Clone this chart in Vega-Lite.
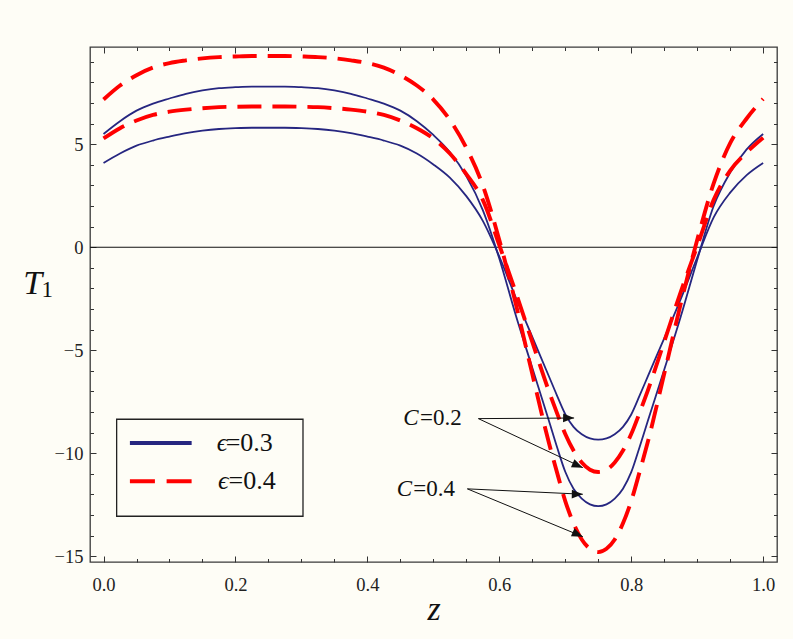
{
  "$schema": "https://vega.github.io/schema/vega-lite/v6.json",
  "width": 687,
  "height": 515,
  "autosize": {"type": "none"},
  "padding": {"left": 90, "top": 47, "right": 16, "bottom": 77},
  "background": "#fefdf6",
  "config": {
    "view": {"stroke": "#3a3a3a", "strokeWidth": 1.3},
    "axis": {"grid": false, "domain": false, "tickColor": "#333", "tickWidth": 1}
  },
  "datasets": {
    "curves": [
      {"z": 0.0, "b2": 4.09, "b4": 5.5, "r2": 5.28, "r4": 7.17},
      {"z": 0.025, "b2": 4.55, "b4": 6.12, "r2": 5.78, "r4": 7.85},
      {"z": 0.05, "b2": 4.93, "b4": 6.63, "r2": 6.15, "r4": 8.35},
      {"z": 0.075, "b2": 5.18, "b4": 6.97, "r2": 6.42, "r4": 8.72},
      {"z": 0.1, "b2": 5.37, "b4": 7.22, "r2": 6.58, "r4": 8.94},
      {"z": 0.125, "b2": 5.54, "b4": 7.45, "r2": 6.68, "r4": 9.07},
      {"z": 0.15, "b2": 5.66, "b4": 7.61, "r2": 6.75, "r4": 9.17},
      {"z": 0.175, "b2": 5.74, "b4": 7.72, "r2": 6.8, "r4": 9.23},
      {"z": 0.2, "b2": 5.78, "b4": 7.77, "r2": 6.82, "r4": 9.26},
      {"z": 0.225, "b2": 5.8, "b4": 7.8, "r2": 6.83, "r4": 9.28},
      {"z": 0.25, "b2": 5.8, "b4": 7.8, "r2": 6.83, "r4": 9.28},
      {"z": 0.275, "b2": 5.8, "b4": 7.8, "r2": 6.83, "r4": 9.28},
      {"z": 0.3, "b2": 5.78, "b4": 7.77, "r2": 6.82, "r4": 9.26},
      {"z": 0.325, "b2": 5.74, "b4": 7.72, "r2": 6.8, "r4": 9.23},
      {"z": 0.35, "b2": 5.66, "b4": 7.61, "r2": 6.75, "r4": 9.17},
      {"z": 0.375, "b2": 5.54, "b4": 7.45, "r2": 6.68, "r4": 9.07},
      {"z": 0.4, "b2": 5.37, "b4": 7.22, "r2": 6.58, "r4": 8.94},
      {"z": 0.425, "b2": 5.18, "b4": 6.97, "r2": 6.42, "r4": 8.72},
      {"z": 0.45, "b2": 4.93, "b4": 6.63, "r2": 6.15, "r4": 8.35},
      {"z": 0.475, "b2": 4.55, "b4": 6.12, "r2": 5.78, "r4": 7.85},
      {"z": 0.5, "b2": 4.02, "b4": 5.45, "r2": 5.28, "r4": 7.17},
      {"z": 0.525, "b2": 3.38, "b4": 4.62, "r2": 4.55, "r4": 6.18},
      {"z": 0.55, "b2": 2.48, "b4": 3.45, "r2": 3.55, "r4": 4.82},
      {"z": 0.575, "b2": 1.28, "b4": 1.8, "r2": 2.3, "r4": 3.0},
      {"z": 0.6, "b2": -0.45, "b4": -0.55, "r2": 0.1, "r4": 0.35},
      {"z": 0.625, "b2": -2.45, "b4": -3.3, "r2": -2.2, "r4": -2.75},
      {"z": 0.65, "b2": -4.35, "b4": -5.85, "r2": -4.6, "r4": -6.15},
      {"z": 0.675, "b2": -6.25, "b4": -8.4, "r2": -6.97, "r4": -9.47},
      {"z": 0.6875, "b2": -7.2, "b4": -9.7, "r2": -8.05, "r4": -10.93},
      {"z": 0.7, "b2": -8.1, "b4": -10.9, "r2": -9.07, "r4": -12.32},
      {"z": 0.7125, "b2": -8.72, "b4": -11.72, "r2": -9.87, "r4": -13.4},
      {"z": 0.725, "b2": -9.08, "b4": -12.2, "r2": -10.45, "r4": -14.19},
      {"z": 0.7375, "b2": -9.28, "b4": -12.48, "r2": -10.8, "r4": -14.64},
      {"z": 0.75, "b2": -9.34, "b4": -12.57, "r2": -10.91, "r4": -14.8},
      {"z": 0.7625, "b2": -9.28, "b4": -12.48, "r2": -10.8, "r4": -14.64},
      {"z": 0.775, "b2": -9.08, "b4": -12.2, "r2": -10.45, "r4": -14.19},
      {"z": 0.7875, "b2": -8.72, "b4": -11.72, "r2": -9.87, "r4": -13.4},
      {"z": 0.8, "b2": -8.12, "b4": -10.92, "r2": -9.07, "r4": -12.32},
      {"z": 0.8125, "b2": -7.22, "b4": -9.72, "r2": -8.05, "r4": -10.93},
      {"z": 0.825, "b2": -6.28, "b4": -8.45, "r2": -6.97, "r4": -9.47},
      {"z": 0.85, "b2": -4.42, "b4": -5.95, "r2": -4.59, "r4": -6.15},
      {"z": 0.875, "b2": -2.52, "b4": -3.38, "r2": -2.18, "r4": -2.75},
      {"z": 0.9, "b2": -0.5, "b4": -0.62, "r2": 0.05, "r4": 0.35},
      {"z": 0.925, "b2": 1.45, "b4": 2.0, "r2": 2.3, "r4": 3.1},
      {"z": 0.95, "b2": 2.65, "b4": 3.62, "r2": 3.72, "r4": 5.05},
      {"z": 0.975, "b2": 3.5, "b4": 4.75, "r2": 4.6, "r4": 6.25},
      {"z": 1.0, "b2": 4.09, "b4": 5.5, "r2": 5.32, "r4": 7.2}
    ],
    "arrows": [
      {"x0": 0.5683, "y0": -8.32, "x1": 0.7134, "y1": -8.29, "kind": "flat"},
      {"x0": 0.5683, "y0": -8.32, "x1": 0.7266, "y1": -10.7, "kind": "slant"},
      {"x0": 0.5516, "y0": -11.73, "x1": 0.7266, "y1": -11.99, "kind": "flat"},
      {"x0": 0.5516, "y0": -11.73, "x1": 0.7266, "y1": -14.05, "kind": "slant"}
    ],
    "clabels": [
      {"xs": 0.4545, "xv": 0.4798, "y": -8.28, "label": "=0.2"},
      {"xs": 0.4445, "xv": 0.4697, "y": -11.75, "label": "=0.4"}
    ],
    "legend": [
      {"xs": 0.1715, "xv": 0.1852, "y": -9.5, "label": "=0.3"},
      {"xs": 0.1735, "xv": 0.1895, "y": -11.36, "label": "=0.4"}
    ],
    "one": [{}]
  },
  "layer": [
    {
      "description": "horizontal line at T1 = 0",
      "data": {"name": "one"},
      "mark": {"type": "rule", "color": "#111", "strokeWidth": 1.1},
      "encoding": {"y": {"datum": 0, "type": "quantitative", "axis": null}}
    },
    {
      "description": "epsilon = 0.3 curves (solid navy)",
      "data": {"name": "curves"},
      "transform": [
        {"fold": ["b2", "b4"], "as": ["curve", "T"]}
      ],
      "mark": {"type": "line", "interpolate": "monotone", "color": "#262680", "strokeWidth": 1.8, "clip": true},
      "encoding": {
        "x": {
          "field": "z", "type": "quantitative",
          "scale": {"domain": [-0.0205, 1.021], "nice": false, "zero": false},
          "axis": {
            "orient": "bottom", "values": [0, 0.2, 0.4, 0.6, 0.8, 1], "format": ".1f",
            "tickSize": -6, "labelPadding": 19, "labelFlush": false, "labelOverlap": false,
            "labelFont": "Liberation Serif", "labelFontSize": 18.5, "labelColor": "#222",
            "title": "z", "titleFont": "Liberation Serif", "titleFontSize": 34,
            "titleFontStyle": "italic", "titleFontWeight": "normal", "titleColor": "#111",
            "titleBaseline": "alphabetic", "titleY": 57
          }
        },
        "y": {
          "field": "T", "type": "quantitative",
          "scale": {"domain": [-15.28, 9.72], "nice": false, "zero": false},
          "axis": {
            "orient": "left", "values": [-15, -10, -5, 0, 5], "format": "d",
            "tickSize": -6, "labelPadding": 13, "labelFlush": false, "labelOverlap": false,
            "labelFont": "Liberation Serif", "labelFontSize": 18.5, "labelColor": "#222",
            "title": null
          }
        },
        "detail": {"field": "curve", "type": "nominal"}
      }
    },
    {
      "description": "epsilon = 0.4 curves (dashed red)",
      "data": {"name": "curves"},
      "transform": [
        {"fold": ["r2", "r4"], "as": ["curve", "T"]}
      ],
      "mark": {"type": "line", "interpolate": "monotone", "color": "#ff0000", "strokeWidth": 3.9, "strokeDash": [24, 11], "clip": true},
      "encoding": {
        "x": {"field": "z", "type": "quantitative", "axis": null},
        "y": {"field": "T", "type": "quantitative", "axis": null},
        "detail": {"field": "curve", "type": "nominal"}
      }
    },
    {
      "description": "legend frame",
      "data": {"name": "one"},
      "mark": {"type": "rect", "fill": "#fefdf6", "stroke": "#222", "strokeWidth": 1.3},
      "encoding": {
        "x": {"datum": 0.0199, "type": "quantitative", "axis": null},
        "x2": {"datum": 0.3024},
        "y": {"datum": -8.35, "type": "quantitative", "axis": null},
        "y2": {"datum": -13.06}
      }
    },
    {
      "description": "legend key, epsilon = 0.3",
      "data": {"name": "one"},
      "mark": {"type": "rule", "color": "#262680", "strokeWidth": 4},
      "encoding": {
        "x": {"datum": 0.04, "type": "quantitative", "axis": null},
        "x2": {"datum": 0.1336},
        "y": {"datum": -9.5, "type": "quantitative", "axis": null}
      }
    },
    {
      "description": "legend key, epsilon = 0.4",
      "data": {"name": "one"},
      "mark": {"type": "rule", "color": "#ff0000", "strokeWidth": 4, "strokeDash": [25, 11.7]},
      "encoding": {
        "x": {"datum": 0.04, "type": "quantitative", "axis": null},
        "x2": {"datum": 0.1336},
        "y": {"datum": -11.36, "type": "quantitative", "axis": null}
      }
    },
    {
      "data": {"name": "legend"},
      "mark": {"type": "text", "text": "ϵ", "font": "Liberation Serif, DejaVu Serif", "fontStyle": "italic", "fontSize": 26, "align": "left", "baseline": "middle", "color": "#111"},
      "encoding": {
        "x": {"field": "xs", "type": "quantitative", "axis": null},
        "y": {"field": "y", "type": "quantitative", "axis": null}
      }
    },
    {
      "data": {"name": "legend"},
      "mark": {"type": "text", "font": "Liberation Serif", "fontSize": 26, "align": "left", "baseline": "middle", "color": "#111"},
      "encoding": {
        "x": {"field": "xv", "type": "quantitative", "axis": null},
        "y": {"field": "y", "type": "quantitative", "axis": null},
        "text": {"field": "label", "type": "nominal"}
      }
    },
    {
      "description": "arrow shafts from the C labels",
      "data": {"name": "arrows"},
      "mark": {"type": "rule", "color": "#111", "strokeWidth": 1},
      "encoding": {
        "x": {
          "field": "x0", "type": "quantitative",
          "axis": {
            "orient": "bottom", "values": [0.05, 0.1, 0.15, 0.25, 0.3, 0.35, 0.45, 0.5, 0.55, 0.65, 0.7, 0.75, 0.85, 0.9, 0.95],
            "tickSize": -3.5, "labels": false, "title": null
          }
        },
        "y": {
          "field": "y0", "type": "quantitative",
          "axis": {
            "orient": "left", "values": [-14, -13, -12, -11, -9, -8, -7, -6, -4, -3, -2, -1, 1, 2, 3, 4, 6, 7, 8, 9],
            "tickSize": -3.5, "labels": false, "title": null
          }
        },
        "x2": {"field": "x1"},
        "y2": {"field": "y1"}
      }
    },
    {
      "description": "arrow heads, nearly horizontal",
      "data": {"name": "arrows"},
      "transform": [{"filter": "datum.kind === 'flat'"}],
      "mark": {"type": "point", "shape": "M0,0L-2,-0.8L-2,0.8Z", "size": 121, "angle": 1, "filled": true, "color": "#111", "opacity": 1},
      "encoding": {
        "x": {
          "field": "x1", "type": "quantitative",
          "axis": {"orient": "top", "values": [0, 0.2, 0.4, 0.6, 0.8, 1], "tickSize": -6, "labels": false, "title": null}
        },
        "y": {
          "field": "y1", "type": "quantitative",
          "axis": {"orient": "right", "values": [-15, -10, -5, 0, 5], "tickSize": -6, "labels": false, "title": null}
        }
      }
    },
    {
      "description": "arrow heads, slanted",
      "data": {"name": "arrows"},
      "transform": [{"filter": "datum.kind === 'slant'"}],
      "mark": {"type": "point", "shape": "M0,0L-2,-0.8L-2,0.8Z", "size": 121, "angle": 23.6, "filled": true, "color": "#111", "opacity": 1},
      "encoding": {
        "x": {
          "field": "x1", "type": "quantitative",
          "axis": {
            "orient": "top", "values": [0.05, 0.1, 0.15, 0.25, 0.3, 0.35, 0.45, 0.5, 0.55, 0.65, 0.7, 0.75, 0.85, 0.9, 0.95],
            "tickSize": -3.5, "labels": false, "title": null
          }
        },
        "y": {
          "field": "y1", "type": "quantitative",
          "axis": {
            "orient": "right", "values": [-14, -13, -12, -11, -9, -8, -7, -6, -4, -3, -2, -1, 1, 2, 3, 4, 6, 7, 8, 9],
            "tickSize": -3.5, "labels": false, "title": null
          }
        }
      }
    },
    {
      "data": {"name": "clabels"},
      "mark": {"type": "text", "text": "C", "font": "Liberation Serif", "fontStyle": "italic", "fontSize": 23, "align": "left", "baseline": "middle", "color": "#111"},
      "encoding": {
        "x": {"field": "xs", "type": "quantitative", "axis": null},
        "y": {"field": "y", "type": "quantitative", "axis": null}
      }
    },
    {
      "data": {"name": "clabels"},
      "mark": {"type": "text", "font": "Liberation Serif", "fontSize": 23, "align": "left", "baseline": "middle", "color": "#111"},
      "encoding": {
        "x": {"field": "xv", "type": "quantitative", "axis": null},
        "y": {"field": "y", "type": "quantitative", "axis": null},
        "text": {"field": "label", "type": "nominal"}
      }
    },
    {
      "description": "vertical axis title T with subscript 1",
      "data": {"name": "one"},
      "mark": {"type": "text", "text": "T", "font": "Liberation Serif", "fontStyle": "italic", "fontSize": 34, "align": "left", "baseline": "alphabetic", "color": "#111"},
      "encoding": {
        "x": {"datum": -0.1218, "type": "quantitative", "axis": null},
        "y": {"datum": -2.25, "type": "quantitative", "axis": null}
      }
    },
    {
      "data": {"name": "one"},
      "mark": {"type": "text", "text": "1", "font": "Liberation Serif", "fontSize": 23, "align": "left", "baseline": "alphabetic", "color": "#111"},
      "encoding": {
        "x": {"datum": -0.0939, "type": "quantitative", "axis": null},
        "y": {"datum": -2.41, "type": "quantitative", "axis": null}
      }
    }
  ],
  "resolve": {"axis": {"x": "independent", "y": "independent"}}
}
